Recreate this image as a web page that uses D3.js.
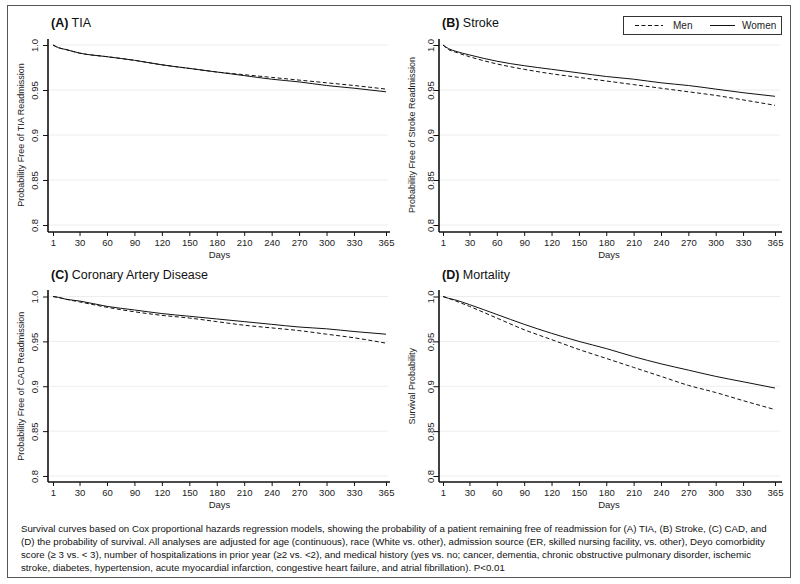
<!DOCTYPE html>
<html>
<head>
<meta charset="utf-8">
<script src="https://cdn.jsdelivr.net/npm/d3@7"></script>
<style>
  html, body { margin: 0; padding: 0; background: #fff; }
  svg { display: block; font-family: "Liberation Sans", Arial, sans-serif; }
</style>
</head>
<body>
<svg id="chart" width="800" height="584"></svg>
<script>
// ---------------- data ----------------
const days = [1, 7, 15, 30, 60, 90, 120, 150, 180, 210, 240, 270, 300, 330, 365];
const xTickLabels = [1, 30, 60, 90, 120, 150, 180, 210, 240, 270, 300, 330, 365];
const yTickLabels = [0.8, 0.85, 0.9, 0.95, 1.0];

const tiaMen     = [1.0, 0.997, 0.995, 0.991, 0.987, 0.983, 0.978, 0.974, 0.970, 0.967, 0.964, 0.961, 0.958, 0.955, 0.951];
const tiaWomen   = [1.0, 0.997, 0.995, 0.991, 0.987, 0.983, 0.978, 0.974, 0.970, 0.966, 0.962, 0.959, 0.955, 0.952, 0.948];
const strokeMen  = [1.0, 0.995, 0.992, 0.987, 0.979, 0.973, 0.968, 0.964, 0.960, 0.956, 0.952, 0.948, 0.944, 0.939, 0.933];
const strokeWomen= [1.0, 0.996, 0.993, 0.989, 0.982, 0.977, 0.973, 0.969, 0.965, 0.962, 0.958, 0.955, 0.951, 0.947, 0.943];
const cadMen     = [1.0, 0.999, 0.997, 0.994, 0.988, 0.983, 0.979, 0.976, 0.972, 0.968, 0.965, 0.962, 0.958, 0.954, 0.948];
const cadWomen   = [1.0, 0.999, 0.997, 0.995, 0.989, 0.985, 0.981, 0.978, 0.975, 0.972, 0.969, 0.966, 0.964, 0.961, 0.958];
const mortMen    = [1.0, 0.998, 0.995, 0.989, 0.976, 0.963, 0.952, 0.941, 0.931, 0.921, 0.911, 0.901, 0.893, 0.884, 0.874];
const mortWomen  = [1.0, 0.998, 0.996, 0.991, 0.980, 0.969, 0.959, 0.950, 0.942, 0.933, 0.925, 0.918, 0.911, 0.905, 0.898];

const panelTags   = ["(A)", "(B)", "(C)", "(D)"];
const panelTitles = ["TIA", "Stroke", "Coronary Artery Disease", "Mortality"];
const yLabels = ["Probability Free of TIA Readmission", "Probability Free of Stroke Readmission",
                 "Probability Free of CAD Readmission", "Survival Probability"];
const seriesNames = ["Men", "Women"];
const xTitle = "Days";

const captionLines = [
  "Survival curves based on Cox proportional hazards regression models, showing the probability of a patient remaining free of readmission for (A) TIA, (B) Stroke, (C) CAD, and",
  "(D) the probability of survival. All analyses are adjusted for age (continuous), race (White vs. other), admission source (ER, skilled nursing facility, vs. other), Deyo comorbidity",
  "score (\u2265 3 vs. < 3), number of hospitalizations in prior year (\u22652 vs. <2), and medical history (yes vs. no; cancer, dementia, chronic obstructive pulmonary disorder, ischemic",
  "stroke, diabetes, hypertension, acute myocardial infarction, congestive heart failure, and atrial fibrillation). P<0.01"
];

const panelData = [
  [tiaMen, tiaWomen],
  [strokeMen, strokeWomen],
  [cadMen, cadWomen],
  [mortMen, mortWomen]
];

// ---------------- layout ----------------
const colsLayout = [
  { axisX: 48,  axisRight: 390, x0: 53,  x1: 386, titleX: 51,  tickOff: 10, labOff: 24 },
  { axisX: 439, axisRight: 782, x0: 443, x1: 775, titleX: 442, tickOff: 5,  labOff: 24 }
];
const rowsLayout = [
  { axisTop: 39,  axisBottom: 232, y1: 45,    y08: 225, titleY: 27 },
  { axisTop: 290, axisBottom: 482, y1: 296.5, y08: 476, titleY: 279 }
];

const svg = d3.select("#chart");
const ink = "#111";

// outer frame
svg.append("rect").attr("x", 7.5).attr("y", 5.5).attr("width", 783).attr("height", 572)
  .attr("fill", "none").attr("stroke", "#555").attr("stroke-width", 1);

panelData.forEach((series, i) => {
  const c = colsLayout[i % 2], r = rowsLayout[Math.floor(i / 2)];
  const x = d3.scaleLinear().domain([1, 365]).range([c.x0, c.x1]);
  const y = d3.scaleLinear().domain([0.8, 1.0]).range([r.y08, r.y1]);
  const g = svg.append("g");

  // gridlines
  g.selectAll("line.grid").data(yTickLabels).join("line")
    .attr("x1", c.axisX + 1).attr("x2", c.axisRight - 2)
    .attr("y1", d => y(d)).attr("y2", d => y(d))
    .attr("stroke", "#ededed").attr("stroke-width", 1);

  // y axis
  const yAxis = d3.axisLeft(y).tickValues(yTickLabels).tickSize(5)
    .tickFormat(d => (d === 1 ? "1.0" : d === 0.8 ? "0.8" : d === 0.9 ? "0.9" : String(d)));
  const ya = g.append("g").attr("transform", `translate(${c.axisX},0)`).call(yAxis);
  ya.select(".domain").remove();
  ya.selectAll(".tick line").attr("stroke", ink);
  ya.selectAll(".tick text")
    .attr("transform", "rotate(-90)")
    .attr("x", 0).attr("dy", 0)
    .attr("y", -c.tickOff)
    .attr("text-anchor", "middle")
    .attr("font-size", 9.5).attr("fill", "#222")
    .attr("font-family", "Liberation Sans, Arial, sans-serif");
  g.append("line").attr("x1", c.axisX).attr("x2", c.axisX)
    .attr("y1", r.axisTop).attr("y2", r.axisBottom)
    .attr("stroke", ink).attr("stroke-width", 1.6);

  // x axis
  const xAxis = d3.axisBottom(x).tickValues(xTickLabels).tickSize(4).tickFormat(d3.format("d"));
  const xa = g.append("g").attr("transform", `translate(0,${r.axisBottom})`).call(xAxis);
  xa.select(".domain").remove();
  xa.selectAll(".tick line").attr("stroke", ink);
  xa.selectAll(".tick text").attr("y", 14).attr("dy", 0)
    .attr("font-size", 9.5).attr("fill", "#222")
    .attr("font-family", "Liberation Sans, Arial, sans-serif");
  g.append("line").attr("x1", c.axisX).attr("x2", c.axisRight)
    .attr("y1", r.axisBottom).attr("y2", r.axisBottom)
    .attr("stroke", ink).attr("stroke-width", 1.6);

  g.append("text").attr("x", (c.x0 + c.x1) / 2).attr("y", r.axisBottom + 26)
    .attr("text-anchor", "middle").attr("font-size", 9.5).attr("fill", "#222").text(xTitle);

  // y label
  g.append("text")
    .attr("transform", `translate(${c.axisX - c.labOff},${(r.y1 + r.y08) / 2}) rotate(-90)`)
    .attr("text-anchor", "middle").attr("font-size", 9).attr("fill", "#222").text(yLabels[i]);

  // title
  const t = g.append("text").attr("x", c.titleX).attr("y", r.titleY)
    .attr("font-size", 12.5).attr("fill", "#111");
  t.append("tspan").attr("font-weight", "bold").text(panelTags[i]);
  t.append("tspan").text(" " + panelTitles[i]);

  // curves
  const line = d3.line().x((d, k) => x(days[k])).y(d => y(d)).curve(d3.curveMonotoneX);
  series.forEach((vals, s) => {
    g.append("path").datum(vals).attr("d", line)
      .attr("fill", "none").attr("stroke", ink).attr("stroke-width", 1)
      .attr("stroke-dasharray", s === 0 ? "4,2.5" : null);
  });
});

// legend
const lg = svg.append("g");
lg.append("rect").attr("x", 623.5).attr("y", 16.5).attr("width", 158).attr("height", 18)
  .attr("fill", "#fff").attr("stroke", "#333").attr("stroke-width", 1);
const legendItems = [
  { name: seriesNames[0], dash: "4,2.5", lx: 635, lw: 28, tx: 673 },
  { name: seriesNames[1], dash: null,    lx: 710, lw: 25, tx: 742 }
];
legendItems.forEach(it => {
  lg.append("line").attr("x1", it.lx).attr("x2", it.lx + it.lw).attr("y1", 25.5).attr("y2", 25.5)
    .attr("stroke", ink).attr("stroke-width", 1).attr("stroke-dasharray", it.dash);
  lg.append("text").attr("x", it.tx).attr("y", 29).attr("font-size", 10).attr("fill", "#222").text(it.name);
});

// caption
svg.append("g").selectAll("text").data(captionLines).join("text")
  .attr("x", 21).attr("y", (d, k) => 531.5 + k * 13)
  .attr("font-size", 9.7).attr("fill", "#111").text(d => d);
</script>
</body>
</html>
